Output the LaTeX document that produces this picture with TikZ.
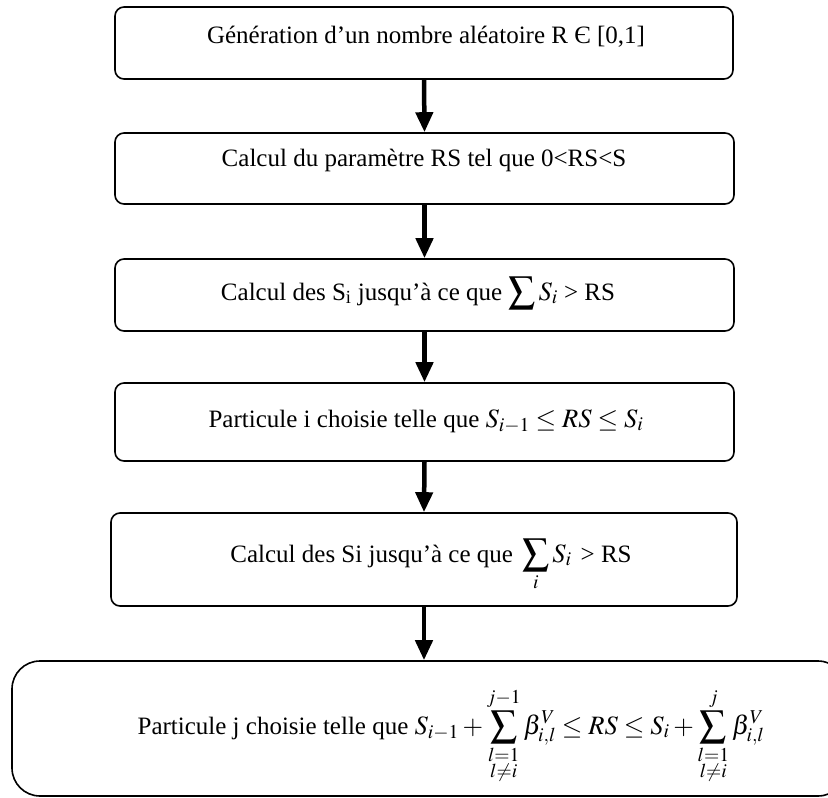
\documentclass[tikz,border=0pt]{standalone}
\usepackage{mathptmx}
\usepackage{amsmath}
\usepackage{fontspec}
\setmainfont{Liberation Serif}
\usetikzlibrary{arrows.meta}
\newcommand{\bigmath}[1]{{\fontsize{26.5}{31}\selectfont$#1$}}
\begin{document}
\begin{tikzpicture}[x=1pt,y=-1pt,
  box/.style={draw, line width=1.6pt, rounded corners=9pt, inner sep=0pt},
  txt/.style={anchor=base, inner sep=0pt, font=\fontsize{25}{30}\selectfont},
  arr/.style={line width=4.5pt, -{Triangle[width=17pt,length=20pt]}}]
\path[use as bounding box] (0,0) rectangle (828,798);
% boxes
\node[box, minimum width=618pt, minimum height=72pt] (b1) at (424,43) {};
\node[box, minimum width=619pt, minimum height=71pt] (b2) at (424.5,168.5) {};
\node[box, minimum width=619pt, minimum height=72pt] (b3) at (424.5,295) {};
\node[box, minimum width=619pt, minimum height=78pt] (b4) at (424.5,422) {};
\node[box, minimum width=626pt, minimum height=93pt] (b5) at (424,559.5) {};
\node[box, rounded corners=28pt, minimum width=834pt, minimum height=135pt] (b6) at (429,728.5) {};
% texts
\node[txt] (t1) at (426,43) {Génération d’un nombre aléatoire R Є [0,1]};
\node[txt] (t2) at (424,166) {Calcul du paramètre RS tel que 0<RS<S};
\node[txt] (t3) at (418,300) {Calcul des S\textsubscript{i} jusqu’à ce que \bigmath{\displaystyle\sum\nolimits S_i} > RS};
\node[txt] (t4) at (426,427) {Particule i choisie telle que \bigmath{S_{i-1}\le RS\le S_i}};
\node[txt] (t5) at (431,562) {Calcul des Si jusqu’à ce que \bigmath{\displaystyle\,\sum_i S_i\,} > RS};
\node[txt] (t6) at (451,734) {Particule j choisie telle que \bigmath{\displaystyle S_{i-1}+\sum_{\substack{l=1\\ l\neq i}}^{j-1}\beta_{i,l}^{V}\le RS\le S_i+\sum_{\substack{l=1\\ l\neq i}}^{j}\beta_{i,l}^{V}}};
% arrows
\draw[arr] (b1.south) -- (b2.north);
\draw[arr] (b2.south) -- (b3.north);
\draw[arr] (b3.south) -- (b4.north);
\draw[arr] (b4.south) -- (b5.north);
\draw[arr] (b5.south) -- (b5.south |- b6.north);
\end{tikzpicture}
\end{document}
